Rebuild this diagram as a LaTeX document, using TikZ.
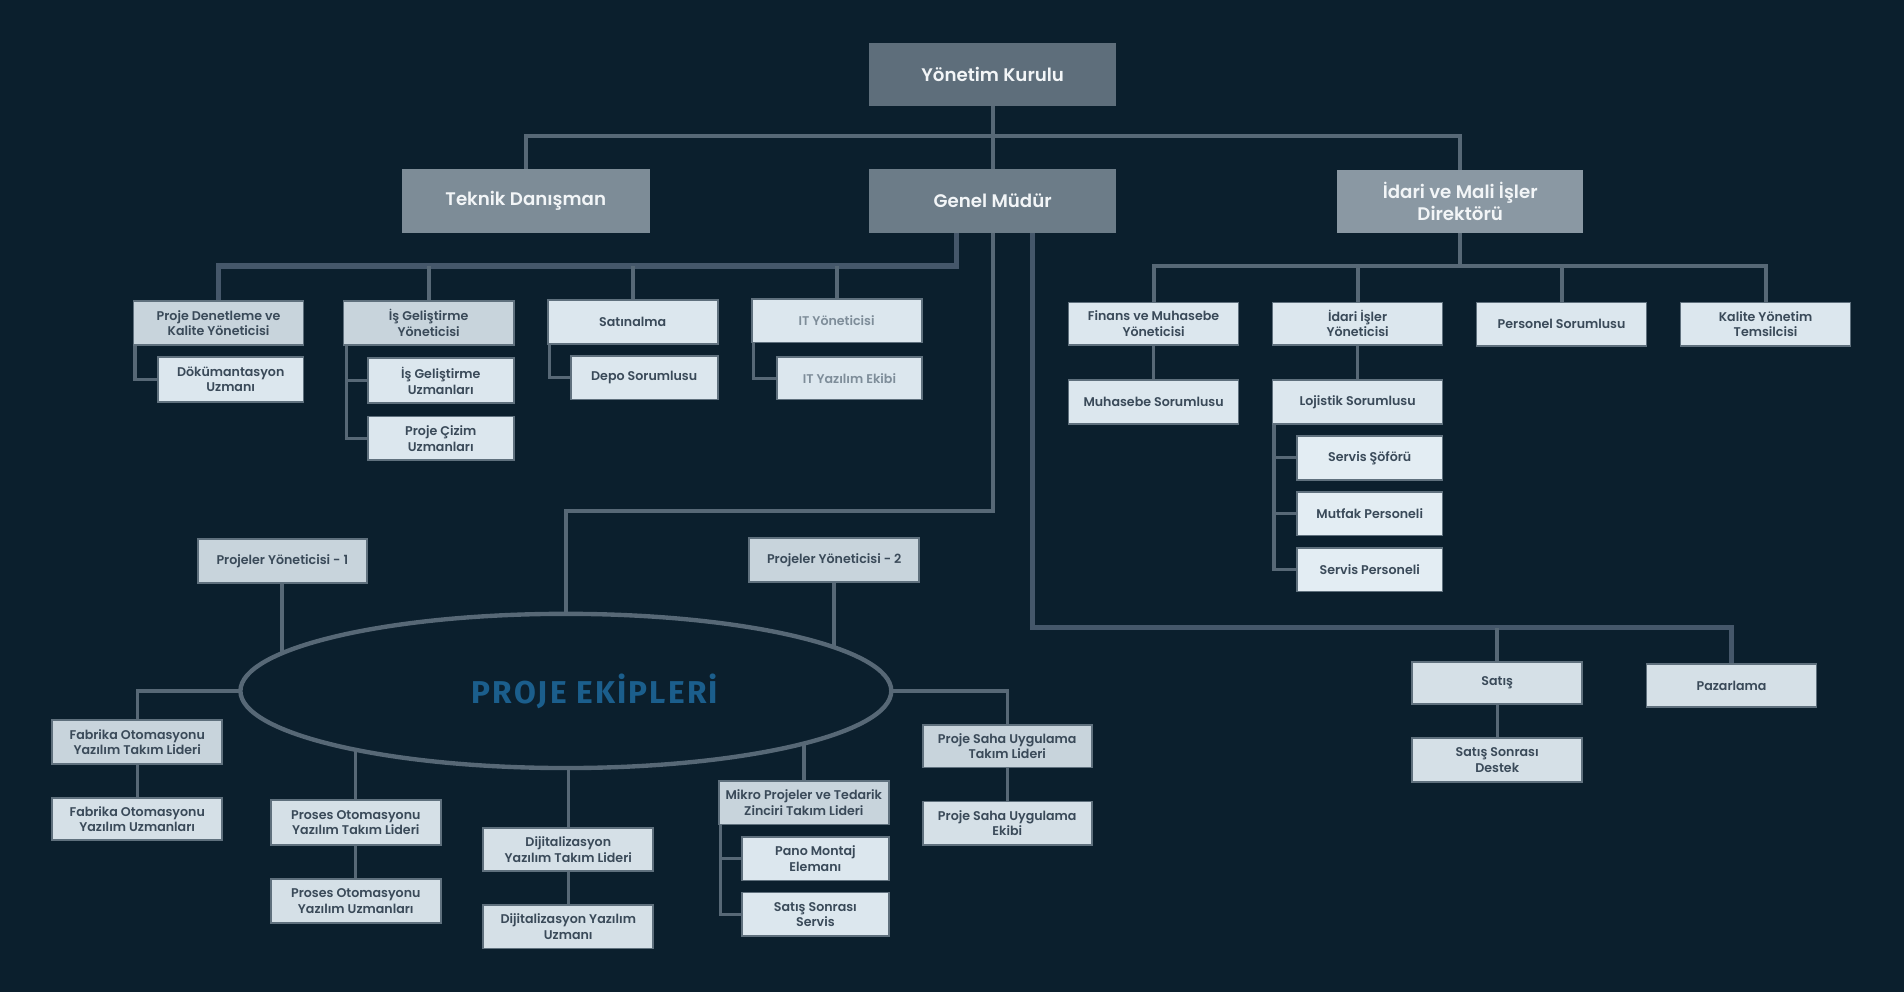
\documentclass[tikz,border=0pt]{standalone}
\usepackage{fontspec}
\setmainfont{Poppins}[BoldFont={Poppins SemiBold}]
\newfontfamily\pefont{Fira Sans}[LetterSpace=7]
\usetikzlibrary{shapes.geometric,calc}
\definecolor{bgc}{HTML}{0B1F2D}
\definecolor{linec}{HTML}{576876}
\definecolor{heavyc}{HTML}{45576A}
\definecolor{bordc}{HTML}{5F707D}
\definecolor{ykc}{HTML}{5E6E7B}
\definecolor{tdc}{HTML}{7D8C97}
\definecolor{gmc}{HTML}{6C7C88}
\definecolor{idc}{HTML}{8A98A3}
\definecolor{toptxt}{HTML}{F2F5F7}
\definecolor{boxtxt}{HTML}{3A4A59}
\definecolor{ittxt}{HTML}{7E8D99}
\definecolor{mgrc}{HTML}{C8D4DC}
\definecolor{stdc}{HTML}{D5E0E7}
\definecolor{litc}{HTML}{DCE7EE}
\definecolor{ltrc}{HTML}{E3EDF3}
\definecolor{pec}{HTML}{1B5E8C}
\pgfdeclarelayer{back}
\pgfdeclarelayer{conns}
\pgfsetlayers{back,conns,main}
\newcommand\obox[7]{\node[#6, minimum width={(#4-#2)*1pt}, minimum height={(#5-#3)*1pt}] (#1) at ({(#2+#4)/2},{(#3+#5)/2}) {#7};}
\tikzset{
  topbox/.style={draw=none, text=toptxt, inner sep=1pt, align=center,
    font=\fontsize{15}{18}\selectfont\bfseries},
  sbox/.style={draw=bordc, line width=1.4pt, text=boxtxt, inner sep=1pt, align=center,
    font=\fontsize{10.4}{12.8}\selectfont\bfseries},
  mgr/.style={sbox, fill=mgrc},
  std/.style={sbox, fill=stdc},
  lit/.style={sbox, fill=litc},
  ltr/.style={sbox, fill=ltrc},
  itb/.style={sbox, fill=litc, text=ittxt},
  mainc/.style={draw=linec, line width=3.4pt},
  heavy/.style={draw=heavyc, line width=4.4pt},
  subc/.style={draw=linec, line width=2.8pt},
}
\begin{document}
\begin{tikzpicture}[x=1pt,y=-1pt]
\begin{pgfonlayer}{back}
\fill[bgc] (0,0) rectangle (1568,817);
\end{pgfonlayer}
\useasboundingbox (0,0) rectangle (1568,817);

% top level
\obox{yk}{716}{35}{919}{87}{topbox, fill=ykc}{Yönetim Kurulu}
\obox{td}{331}{139}{535}{192}{topbox, fill=tdc}{Teknik Danışman}
\obox{gm}{716}{139}{919}{192}{topbox, fill=gmc}{Genel Müdür}
\obox{idr}{1101}{140}{1304}{192}{topbox, fill=idc}{İdari ve Mali İşler\\Direktörü}

% left group
\obox{pd}{110}{248}{250}{284}{mgr}{Proje Denetleme ve\\Kalite Yöneticisi}
\obox{du}{130}{294}{250}{331}{lit}{Dökümantasyon\\Uzmanı}
\obox{ig}{283}{248}{423}{284}{mgr}{İş Geliştirme\\Yöneticisi}
\obox{iu}{303}{295}{423}{332}{lit}{İş Geliştirme\\Uzmanları}
\obox{pc}{303}{343}{423}{379}{lit}{Proje Çizim\\Uzmanları}
\obox{sa}{451}{247}{591}{283}{lit}{Satınalma}
\obox{dp}{470}{293}{591}{329}{lit}{Depo Sorumlusu}
\obox{it}{619}{246}{759}{282}{itb}{IT Yöneticisi}
\obox{iy}{640}{294}{759}{329}{itb}{IT Yazılım Ekibi}

% right group
\obox{fm}{880}{249}{1020}{284}{lit}{Finans ve Muhasebe\\Yöneticisi}
\obox{ms}{880}{313}{1020}{349}{lit}{Muhasebe Sorumlusu}
\obox{ii}{1048}{249}{1188}{284}{lit}{İdari İşler\\Yöneticisi}
\obox{ls}{1048}{313}{1188}{349}{lit}{Lojistik Sorumlusu}
\obox{ss}{1068}{359}{1188}{395}{ltr}{Servis Şöförü}
\obox{mp}{1068}{405}{1188}{441}{ltr}{Mutfak Personeli}
\obox{sp}{1068}{451}{1188}{487}{ltr}{Servis Personeli}
\obox{ps}{1216}{249}{1356}{285}{lit}{Personel Sorumlusu}
\obox{kt}{1384}{249}{1524}{285}{lit}{Kalite Yönetim\\Temsilcisi}

% sales
\obox{sat}{1163}{545}{1303}{580}{std}{Satış}
\obox{ssd}{1163}{608}{1303}{644}{std}{Satış Sonrası\\Destek}
\obox{paz}{1356}{547}{1496}{582}{std}{Pazarlama}

% project teams
\node[ellipse, draw=linec, line width=3.6pt, fill=bgc, minimum width=536pt, minimum height=127pt, inner sep=0pt,
  text=pec, font=\pefont\fontsize{26}{28}\selectfont\bfseries] (pe) at (466,569) {\hspace*{48pt}PROJE EKİPLERİ};
\obox{py1}{163}{444}{302}{480}{mgr}{Projeler Yöneticisi - 1}
\obox{py2}{617}{443}{757}{479}{mgr}{Projeler Yöneticisi - 2}
\obox{ft}{43}{593}{183}{629}{mgr}{Fabrika Otomasyonu\\Yazılım Takım Lideri}
\obox{fu}{43}{657}{183}{692}{std}{Fabrika Otomasyonu\\Yazılım Uzmanları}
\obox{pt}{223}{659}{363}{696}{std}{Proses Otomasyonu\\Yazılım Takım Lideri}
\obox{pu}{223}{724}{363}{760}{std}{Proses Otomasyonu\\Yazılım Uzmanları}
\obox{dt}{398}{682}{538}{717}{std}{Dijitalizasyon\\Yazılım Takım Lideri}
\obox{du2}{398}{745}{538}{781}{std}{Dijitalizasyon Yazılım\\Uzmanı}
\obox{mt}{592}{643}{732}{679}{mgr}{Mikro Projeler ve Tedarik\\Zinciri Takım Lideri}
\obox{pm}{611}{689}{732}{725}{lit}{Pano Montaj\\Elemanı}
\obox{ssv}{611}{735}{732}{771}{lit}{Satış Sonrası\\Servis}
\obox{st}{760}{597}{899}{632}{mgr}{Proje Saha Uygulama\\Takım Lideri}
\obox{se}{760}{660}{899}{696}{std}{Proje Saha Uygulama\\Ekibi}

\coordinate (tb) at (818,112);
\coordinate (lb) at (500,219);
\coordinate (rb) at (1200,219);
\coordinate (pb) at (600,421);
\coordinate (sb) at (1300,517);

\begin{pgfonlayer}{conns}
% top
\draw[mainc] (yk.south) -- (gm.north);
\draw[mainc] (td.north) |- (tb) -| (idr.north);
% genel mudur to left group
\draw[heavy] ([xshift=-30pt]gm.south) |- (lb) -| (pd.north);
\draw[mainc] (ig.north) -- (ig.north |- lb);
\draw[mainc] (sa.north) -- (sa.north |- lb);
\draw[mainc] (it.north) -- (it.north |- lb);
\draw[subc] ([xshift=2pt]pd.south west) |- (du.west);
\draw[subc] ([xshift=3pt]ig.south west) |- (iu.west);
\draw[subc] ([xshift=3pt]ig.south west) |- (pc.west);
\draw[subc] ([xshift=2pt]sa.south west) |- (dp.west);
\draw[subc] ([xshift=2pt]it.south west) |- (iy.west);
% idari group
\draw[mainc] (idr.south) -- (idr.south |- rb);
\draw[mainc] (fm.north) |- (rb) -| (kt.north);
\draw[mainc] (ii.north) -- (ii.north |- rb);
\draw[mainc] (ps.north) -- (ps.north |- rb);
\draw[subc] (fm.south) -- (ms.north);
\draw[subc] (ii.south) -- (ls.north);
\draw[subc] ([xshift=2pt]ls.south west) |- (ss.west);
\draw[subc] ([xshift=2pt]ls.south west) |- (mp.west);
\draw[subc] ([xshift=2pt]ls.south west) |- (sp.west);
% sales
\draw[heavy] ([xshift=33pt]gm.south) |- (sb) -| (paz.north);
\draw[mainc] (sat.north) -- (sat.north |- sb);
\draw[subc] (sat.south) -- (ssd.north);
% project teams
\draw[mainc] (gm.south) |- (pb) -| (pe.center);
\draw[mainc] (py1.south) -- (py1.south |- pe.center);
\draw[mainc] (py2.south) -- (py2.south |- pe.center);
\draw[subc] (pe.center) -| (ft.north);
\draw[subc] (ft.south) -- (fu.north);
\draw[subc] (pt.north) -- (pt.north |- pe.center);
\draw[subc] (pt.south) -- (pu.north);
\draw[subc] (dt.north) -- (dt.north |- pe.center);
\draw[subc] (dt.south) -- (du2.north);
\draw[subc] (mt.north) -- (mt.north |- pe.center);
\draw[subc] ([xshift=2pt]mt.south west) |- (pm.west);
\draw[subc] ([xshift=2pt]mt.south west) |- (ssv.west);
\draw[subc] (pe.center) -| (st.north);
\draw[subc] (st.south) -- (se.north);
\end{pgfonlayer}
\end{tikzpicture}
\end{document}
